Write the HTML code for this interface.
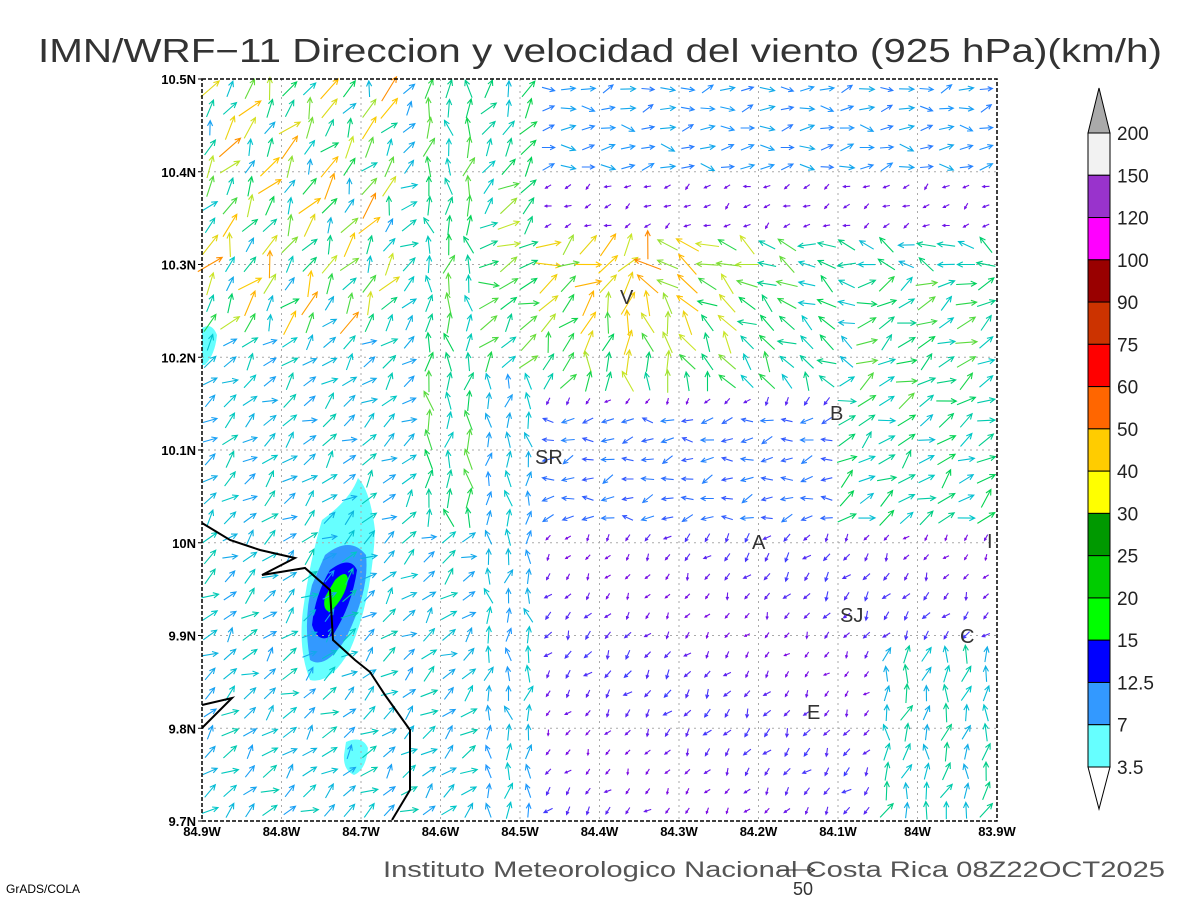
<!DOCTYPE html>
<html><head><meta charset="utf-8"><style>
body{margin:0;background:#fff;}
svg text{font-family:"Liberation Sans",sans-serif;}
</style></head><body>
<svg id="s" width="1200" height="900" xmlns="http://www.w3.org/2000/svg">
<rect width="1200" height="900" fill="#fff"/>
<text x="600" y="62" font-size="33" text-anchor="middle" textLength="1124" lengthAdjust="spacingAndGlyphs" fill="#333">IMN/WRF−11 Direccion y velocidad del viento (925 hPa)(km/h)</text>
<g id="cont">
<path d="M322,520 Q350,500 358,478 Q370,490 375,530 Q372,600 350,650 Q330,685 310,680 Q298,650 303,610 Q310,560 322,520Z" fill="#66ffff"/>
<path d="M325,555 Q350,535 366,555 Q370,590 345,640 Q325,670 310,660 Q303,620 312,585Z" fill="#3399ff"/>
<path d="M330,570 Q350,555 357,570 Q352,605 333,635 Q318,645 312,625 Q315,595 330,570Z" fill="#0000ff"/>
<path d="M335,580 Q347,568 348,580 Q345,598 330,612 Q322,610 325,597Z" fill="#00ff00"/>
<path d="M346,742 Q362,735 368,748 Q366,770 354,775 Q343,770 344,755Z" fill="#66ffff"/>
<path d="M202,328 Q212,322 217,335 Q215,355 205,365 L202,365Z" fill="#66ffff"/>
</g>
<g id="grid" stroke="#aaa" stroke-dasharray="2,4" stroke-width="1"></g>
<g id="arr"></g>
<polyline points="202,523 230,540 260,550 295,558 262,575 305,568 330,590 333,640 355,660 370,672 385,695 410,730 410,790 392,820" fill="none" stroke="#000" stroke-width="2"/>
<polyline points="202,705 232,698 202,728" fill="none" stroke="#000" stroke-width="2"/>
<rect x="202" y="79" width="795" height="742" fill="none" stroke="#000" stroke-width="1.5" stroke-dasharray="4,2"/>
<g font-size="20" fill="#333">
<text x="620" y="304">V</text><text x="830" y="420">B</text><text x="535" y="464">SR</text>
<text x="752" y="549">A</text><text x="840" y="622">SJ</text><text x="960" y="643">C</text>
<text x="807" y="719">E</text><text x="987" y="548">I</text>
</g>
<g id="ticks" font-size="13" font-weight="bold" fill="#000"></g>
<g id="cb"></g>
<text x="383" y="877" font-size="22" fill="#555" textLength="782" lengthAdjust="spacingAndGlyphs">Instituto Meteorologico Nacional Costa Rica 08Z22OCT2025</text>
<line x1="778" y1="870" x2="815" y2="870" stroke="#333"/><path d="M815,870 l-6,-3 m6,3 l-6,3" stroke="#333"/>
<text x="793" y="895" font-size="18" fill="#333">50</text>
<text x="6" y="893" font-size="12" fill="#000">GrADS/COLA</text>
</svg>
<script>
const NS="http://www.w3.org/2000/svg";
function el(t,a,p){const e=document.createElementNS(NS,t);for(const k in a)e.setAttribute(k,a[k]);document.getElementById(p).appendChild(e);return e;}
const X0=202,X1=997,Y0=79,Y1=821;
for(let i=1;i<10;i++){let x=X0+i*(X1-X0)/10;el('line',{x1:x,y1:Y0,x2:x,y2:Y1},'grid');}
for(let i=1;i<8;i++){let y=Y0+i*(Y1-Y0)/8;el('line',{x1:X0,y1:y,x2:X1,y2:y},'grid');}
const xl=["84.9W","84.8W","84.7W","84.6W","84.5W","84.4W","84.3W","84.2W","84.1W","84W","83.9W"];
xl.forEach((t,i)=>{let x=X0+i*(X1-X0)/10;let e=el('text',{x:x,y:836,'text-anchor':'middle'},'ticks');e.textContent=t;});
const yl=["10.5N","10.4N","10.3N","10.2N","10.1N","10N","9.9N","9.8N","9.7N"];
yl.forEach((t,i)=>{let y=Y0+i*(Y1-Y0)/8;let e=el('text',{x:196,y:y+5,'text-anchor':'end'},'ticks');e.textContent=t;el('line',{x1:X0-4,y1:y,x2:X0,y2:y,stroke:'#000'},'ticks');});
const cols=["#f2f2f2","#9933cc","#ff00ff","#990000","#cc3300","#ff0000","#ff6600","#ffcc00","#ffff00","#009900","#00cc00","#00ff00","#0000ff","#3399ff","#66ffff"];
const labs=["200","150","120","100","90","75","60","50","40","30","25","20","15","12.5","7","3.5"];
const cx=1088,cw=22,ct=133,ch=634/15;
el('path',{d:`M${cx},${ct} L${cx+cw/2},88 L${cx+cw},${ct}Z`,fill:'#aaa',stroke:'#000'},'cb');
cols.forEach((c,i)=>el('rect',{x:cx,y:ct+i*ch,width:cw,height:ch,fill:c,stroke:'#000'},'cb'));
let cb=ct+15*ch;
el('path',{d:`M${cx},${cb} L${cx+cw/2},${cb+42} L${cx+cw},${cb}Z`,fill:'#fff',stroke:'#000'},'cb');
labs.forEach((t,i)=>{let e=el('text',{x:1117,y:ct+i*ch+7,'font-size':19,fill:'#222'},'cb');e.textContent=t;});
function field(x,y){
 const u=(x-X0)/(X1-X0), v=(y-Y0)/(Y1-Y0);
 let dx=1,dy=-0.8,s=0.35;
 if(u<0.25&&v<0.35){dx=0.6;dy=-1;s=0.5+0.15*Math.sin(x*0.1+y*0.07);}
 if(u>0.28&&u<0.36&&v<0.6){dx=0;dy=-1;s=0.45;}
 if(u>=0.36&&v<0.42){let tx=0.54,ty=0.25;dx=tx-u;dy=ty-v;let n=Math.hypot(dx,dy)+1e-3;dx/=n;dy=-1*Math.abs(dy/n)-0.3;s=0.4+0.25*Math.exp(-n*n*40);}
 if(u>0.42&&v<0.12){dx=1;dy=-0.1;s=0.28;}
 if(u>0.42&&v>=0.12&&v<0.22){dx=-0.4;dy=0.2;s=0.05;}
 if(u>0.4&&v>=0.42){dx=-0.6;dy=0.8;s=0.08+0.05*Math.sin(x*0.3+y);}
 if(u>0.38&&u<0.82&&v>0.46&&v<0.6){dx=-1;dy=0.15;s=0.22;}
 if(u>0.8&&v>0.4&&v<0.6){dx=1;dy=-0.6;s=0.42;}
 if(u>0.82&&v>0.25&&v<0.45){dx=1;dy=-0.5;s=0.45;}
 if(u>0.35&&u<0.42&&v>0.4){dx=0;dy=-1;s=0.33;}
 if(u>0.85&&v>0.75){dx=0.2;dy=-1;s=0.38;}
 let a=0.35*Math.sin(x*0.37+y*0.21)+0.25*Math.cos(x*0.13-y*0.29);
 let c=Math.cos(a),sn=Math.sin(a);
 return [dx*c-dy*sn,dx*sn+dy*c,s*(1+0.15*Math.sin(x*0.5+y*0.3))];
}
function color(s){
 const st=[[0,[140,0,220]],[0.15,[60,60,255]],[0.28,[30,150,255]],[0.38,[0,200,200]],[0.48,[0,210,80]],[0.56,[200,230,40]],[0.66,[255,200,0]],[0.78,[255,100,0]],[0.9,[255,0,0]]];
 s=Math.max(0,Math.min(0.9,s));
 for(let i=1;i<st.length;i++)if(s<=st[i][0]){let a=st[i-1],b=st[i],t=(s-a[0])/(b[0]-a[0]);return `rgb(${a[1].map((c,k)=>Math.round(c+(b[1][k]-c)*t)).join(',')})`;}
 return 'red';
}
for(let y=Y0+10;y<Y1;y+=19.5)for(let x=X0+8;x<X1;x+=19.9){
 let [dx,dy,s]=field(x,y);let n=Math.hypot(dx,dy)||1;dx/=n;dy/=n;
 let L=5+s*32;if(L>30)L=30;
 let x1=x-dx*L/2,y1=y-dy*L/2,x2=x+dx*L/2,y2=y+dy*L/2;
 let h=Math.min(6,L*0.4),ca=Math.cos(0.45),sa=Math.sin(0.45);
 let ax=-dx,ay=-dy;
 let p=`M${x1.toFixed(1)},${y1.toFixed(1)}L${x2.toFixed(1)},${y2.toFixed(1)}M${(x2+h*(ax*ca-ay*sa)).toFixed(1)},${(y2+h*(ax*sa+ay*ca)).toFixed(1)}L${x2.toFixed(1)},${y2.toFixed(1)}L${(x2+h*(ax*ca+ay*sa)).toFixed(1)},${(y2+h*(-ax*sa+ay*ca)).toFixed(1)}`;
 el('path',{d:p,stroke:color(s),fill:'none','stroke-width':1.1},'arr');
}
</script>
</body></html>
